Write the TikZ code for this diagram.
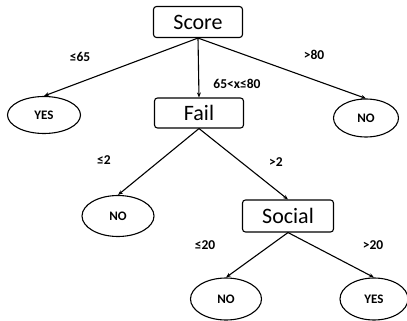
\documentclass[tikz,border=0pt]{standalone}
\usepackage{fontspec}
\setmainfont{Carlito}
\usetikzlibrary{arrows.meta,shapes.geometric}

\tikzset{
	test/.style={draw,line width=1.1pt,rounded corners=3pt,minimum width=89pt,minimum height=31pt,inner sep=0pt,font=\fontsize{22}{24}\selectfont},
	leaf/.style={draw,ellipse,line width=1.1pt,inner sep=0pt,font=\fontsize{13}{15}\selectfont\bfseries},
	cond/.style={font=\fontsize{13.5}{15}\selectfont\bfseries},
	edge/.style={line width=1.1pt,-{Stealth[length=5pt,width=4pt]}}
}

\begin{document}
\begin{tikzpicture}[x=1pt,y=-1pt]
		\useasboundingbox (0,0) rectangle (407,321);
		% tests
		\node[test] (score) at (198,22) {Score};
		\node[test,minimum height=30pt] (fail) at (199,113) {Fail};
		\node[test,minimum width=91pt,minimum height=32pt] (social) at (288,216) {Social};
		% leaves
		\node[leaf,minimum width=73pt,minimum height=37pt] (yes1) at (44,115) {YES};
		\node[leaf,minimum width=65pt,minimum height=38pt] (no1) at (366,118) {NO};
		\node[leaf,minimum width=72pt,minimum height=41pt] (no2) at (118,216) {NO};
		\node[leaf,minimum width=71pt,minimum height=42pt] (no3) at (226,299) {NO};
		\node[leaf,minimum width=68pt,minimum height=42pt] (yes2) at (374,299) {YES};
		% branches
		\draw[edge] (score.south) -- (yes1.north);
		\draw[edge] (score.south) -- (fail.north);
		\draw[edge] (score.south) -- (no1.north);
		\draw[edge] (fail.south) -- (no2.north);
		\draw[edge] (fail.south) -- (social.north);
		\draw[edge] (social.south) -- (no3.north);
		\draw[edge] (social.south) -- (yes2.north);
		% conditions
		\node[cond] (c1) at (80,57) {≤65};
		\node[cond] (c2) at (237,84) {65<x≤80};
		\node[cond] (c3) at (314,55) {>80};
		\node[cond] (c4) at (104,160) {≤2};
		\node[cond] (c5) at (276,162) {>2};
		\node[cond] (c6) at (205,245) {≤20};
		\node[cond] (c7) at (373,245) {>20};
	\end{tikzpicture}
\end{document}
